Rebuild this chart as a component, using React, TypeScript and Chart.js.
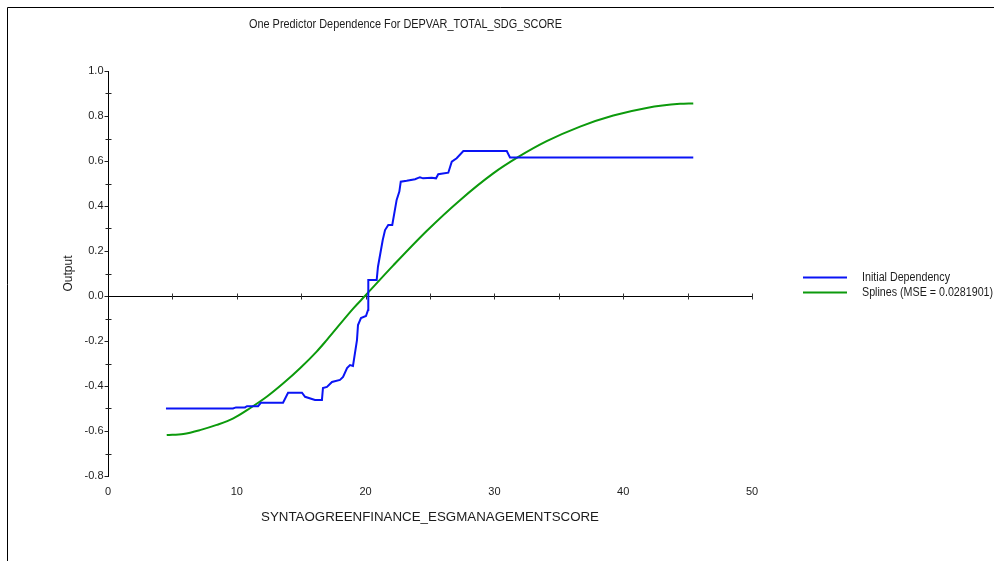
import React, { useEffect, useRef } from "react";
import { Chart, registerables } from "chart.js";

Chart.register(...registerables);

// Labels
const chartTitle = "One Predictor Dependence For DEPVAR_TOTAL_SDG_SCORE";
const xAxisTitle = "SYNTAOGREENFINANCE_ESGMANAGEMENTSCORE";
const yAxisTitle = "Output";
const dependencyLabel = "Initial Dependency";
const splineLabel = "Splines (MSE = 0.0281901)";

// Axis ticks
const xTickLabels = [0, 10, 20, 30, 40, 50];
const xZeroLineTicks = [5, 10, 15, 20, 25, 30, 35, 40, 45, 50];
const yTickLabels = [1.0, 0.8, 0.6, 0.4, 0.2, 0.0, -0.2, -0.4, -0.6, -0.8];
const yMinorTicks = [0.9, 0.7, 0.5, 0.3, 0.1, -0.1, -0.3, -0.5, -0.7];

// Initial dependency (step-like curve)
const dependencyX = [
  4.5, 9.7, 9.94, 10.64, 10.79, 11.65, 11.88, 13.59, 13.98, 15.06,
  15.3, 16.07, 16.61, 16.69, 17.0, 17.39, 18.01, 18.25, 18.56, 18.79,
  19.02, 19.33, 19.41, 19.64, 20.03, 20.19, 20.21, 20.86, 20.96, 21.33,
  21.51, 21.76, 22.07, 22.41, 22.62, 22.73, 23.19, 23.84, 24.22, 24.46,
  25.13, 25.47, 25.64, 26.42, 26.69, 27.07, 27.59, 30.96, 31.21, 45.44,
];
const dependencyY = [
  -0.5, -0.5, -0.495, -0.495, -0.49, -0.49, -0.474, -0.474, -0.43, -0.43,
  -0.448, -0.462, -0.462, -0.409, -0.404, -0.382, -0.373, -0.36, -0.32, -0.307,
  -0.311, -0.196, -0.129, -0.098, -0.089, -0.062, 0.071, 0.071, 0.13, 0.249,
  0.293, 0.316, 0.316, 0.427, 0.464, 0.508, 0.512, 0.519, 0.528, 0.523,
  0.526, 0.523, 0.541, 0.548, 0.597, 0.612, 0.644, 0.644, 0.616, 0.616,
];

// Spline fit
const splineX = [
  4.56, 5.85, 7.14, 8.44, 9.73, 11.02, 12.32, 13.61, 14.91, 16.2,
  16.98, 19.05, 19.95, 22.15, 24.74, 27.33, 29.91, 31.86, 34.06, 36.65,
  39.23, 41.82, 44.41, 45.44,
];
const splineY = [
  -0.618, -0.613, -0.596, -0.573, -0.544, -0.499, -0.448, -0.388, -0.321, -0.247,
  -0.196, -0.055, 0.0, 0.136, 0.289, 0.426, 0.545, 0.618, 0.688, 0.753,
  0.802, 0.836, 0.854, 0.856,
];

const BLUE = "#0a14f5";
const GREEN = "#0c9a0c";
const INK = "#1c1c1c";
const FONT = "'Liberation Sans', Arial, sans-serif";

function drawFitted(
  ctx: CanvasRenderingContext2D,
  text: string,
  x: number,
  y: number,
  font: string,
  align: "left" | "center" | "right",
  targetWidth?: number
) {
  ctx.save();
  ctx.font = font;
  ctx.textBaseline = "middle";
  ctx.textAlign = "left";
  const w = ctx.measureText(text).width;
  const sx = targetWidth ? targetWidth / w : 1;
  const drawnW = w * sx;
  let left = x;
  if (align === "center") left = x - drawnW / 2;
  if (align === "right") left = x - drawnW;
  ctx.translate(left, y);
  ctx.scale(sx, 1);
  ctx.fillText(text, 0, 0);
  ctx.restore();
}

const decorPlugin = {
  id: "decor",
  beforeDatasetsDraw(chart: any) {
    const { ctx, scales } = chart;
    const xs = scales.x;
    const ys = scales.y;
    ctx.save();
    ctx.strokeStyle = "#000";
    ctx.lineWidth = 1;

    // outer frame (left and top)
    ctx.beginPath();
    ctx.moveTo(7.5, chart.height);
    ctx.lineTo(7.5, 7.5);
    ctx.lineTo(chart.width, 7.5);
    ctx.stroke();

    // vertical axis at x = 0
    const ax = Math.round(xs.getPixelForValue(0)) + 0.5;
    ctx.beginPath();
    ctx.moveTo(ax, Math.round(ys.getPixelForValue(1.0)));
    ctx.lineTo(ax, Math.round(ys.getPixelForValue(-0.8)) + 1);
    ctx.stroke();

    ctx.strokeStyle = "#222";
    for (const v of yTickLabels) {
      const py = Math.round(ys.getPixelForValue(v)) + 0.5;
      ctx.beginPath();
      ctx.moveTo(ax - 4, py);
      ctx.lineTo(ax, py);
      ctx.stroke();
    }
    for (const v of yMinorTicks) {
      const py = Math.round(ys.getPixelForValue(v)) + 0.5;
      ctx.beginPath();
      ctx.moveTo(ax - 3, py);
      ctx.lineTo(ax + 3, py);
      ctx.stroke();
    }

    // horizontal zero line
    const zy = Math.round(ys.getPixelForValue(0)) + 0.5;
    ctx.strokeStyle = "#000";
    ctx.beginPath();
    ctx.moveTo(ax, zy);
    ctx.lineTo(xs.getPixelForValue(50), zy);
    ctx.stroke();
    ctx.strokeStyle = "#333";
    for (const v of xZeroLineTicks) {
      const px = Math.round(xs.getPixelForValue(v)) + 0.5;
      ctx.beginPath();
      ctx.moveTo(px, zy - 3);
      ctx.lineTo(px, zy + 3);
      ctx.stroke();
    }

    // tick labels
    ctx.fillStyle = INK;
    for (const v of yTickLabels) {
      drawFitted(ctx, v.toFixed(1), ax - 5, ys.getPixelForValue(v), `11px ${FONT}`, "right");
    }
    const labelY = ys.getPixelForValue(-0.8) + 16;
    for (const v of xTickLabels) {
      drawFitted(ctx, String(v), xs.getPixelForValue(v), labelY, `11px ${FONT}`, "center");
    }
    ctx.restore();
  },
  afterDraw(chart: any) {
    const { ctx, scales } = chart;
    const ys = scales.y;
    ctx.save();
    ctx.fillStyle = INK;

    // chart title
    drawFitted(ctx, chartTitle, 405.5, 25, `12px ${FONT}`, "center", 313);

    // axis titles
    drawFitted(ctx, xAxisTitle, 430, 517, `13px ${FONT}`, "center", 338);
    ctx.save();
    ctx.translate(69, (ys.getPixelForValue(0.2) + ys.getPixelForValue(0)) / 2);
    ctx.rotate(-Math.PI / 2);
    drawFitted(ctx, yAxisTitle, 0, 0, `12px ${FONT}`, "center");
    ctx.restore();

    // legend
    const items = [
      { label: dependencyLabel, color: BLUE, y: 277.5 },
      { label: splineLabel, color: GREEN, y: 292.5 },
    ];
    ctx.font = `12px ${FONT}`;
    const sx = 88 / ctx.measureText(dependencyLabel).width;
    for (const it of items) {
      ctx.strokeStyle = it.color;
      ctx.lineWidth = 2;
      ctx.beginPath();
      ctx.moveTo(803, it.y);
      ctx.lineTo(847, it.y);
      ctx.stroke();
      ctx.font = `12px ${FONT}`;
      const w = ctx.measureText(it.label).width * sx;
      drawFitted(ctx, it.label, 862, it.y, `12px ${FONT}`, "left", w);
    }
    ctx.restore();
  },
};

export default function App() {
  const canvasRef = useRef<HTMLCanvasElement | null>(null);

  useEffect(() => {
    const canvas = canvasRef.current;
    if (!canvas) return;
    const chart = new Chart(canvas, {
      type: "scatter",
      data: {
        datasets: [
          {
            label: dependencyLabel,
            data: dependencyX.map((x, i) => ({ x, y: dependencyY[i] })),
            showLine: true,
            borderColor: BLUE,
            borderWidth: 2,
            pointRadius: 0,
            tension: 0,
          },
          {
            label: splineLabel,
            data: splineX.map((x, i) => ({ x, y: splineY[i] })),
            showLine: true,
            borderColor: GREEN,
            borderWidth: 2,
            pointRadius: 0,
            cubicInterpolationMode: "monotone",
          },
        ],
      },
      options: {
        animation: false,
        responsive: false,
        devicePixelRatio: 1,
        layout: { padding: { left: 108, right: 242, top: 71, bottom: 85 } },
        scales: {
          x: { type: "linear", min: 0, max: 50, display: false },
          y: { type: "linear", min: -0.8, max: 1.0, display: false },
        },
        plugins: {
          legend: { display: false },
          title: { display: false },
          tooltip: { enabled: false },
        },
        events: [],
      },
      plugins: [decorPlugin],
    });
    return () => chart.destroy();
  }, []);

  return (
    <div style={{ position: "absolute", left: 0, top: 0, width: 994, height: 561, background: "#fff" }}>
      <canvas ref={canvasRef} width={994} height={561} style={{ display: "block" }} />
    </div>
  );
}
